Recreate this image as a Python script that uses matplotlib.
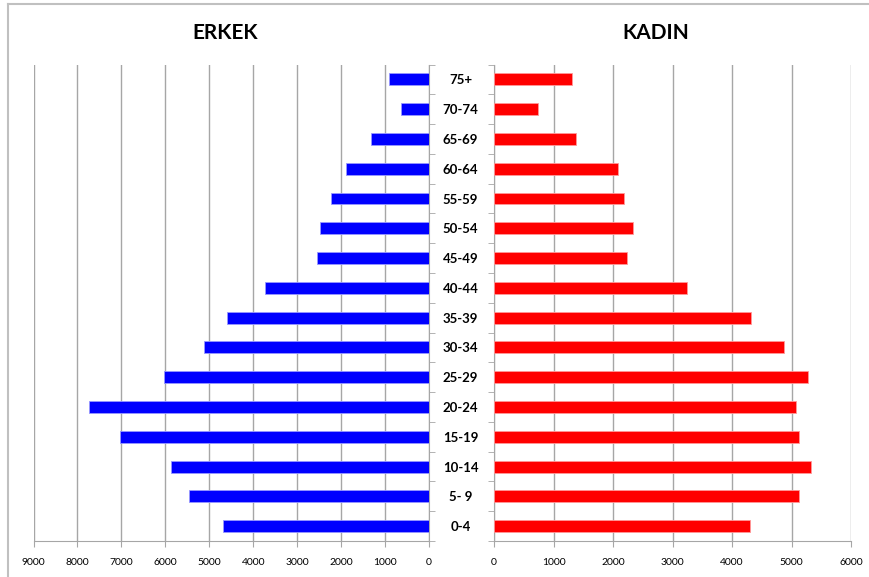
import numpy as np
import matplotlib
matplotlib.use("Agg")
import matplotlib.pyplot as plt
from matplotlib.lines import Line2D

# age groups, bottom to top
age_groups = ["0-4", "5- 9", "10-14", "15-19", "20-24", "25-29", "30-34", "35-39",
              "40-44", "45-49", "50-54", "55-59", "60-64", "65-69", "70-74", "75+"]
erkek = [4680, 5470, 5880, 7040, 7740, 6040, 5130, 4600,
         3730, 2560, 2480, 2230, 1880, 1310, 640, 910]
kadin = [4310, 5130, 5330, 5130, 5070, 5270, 4870, 4320,
         3250, 2240, 2340, 2190, 2080, 1370, 740, 1310]

left_ticks = [9000, 8000, 7000, 6000, 5000, 4000, 3000, 2000, 1000, 0]
right_ticks = [0, 1000, 2000, 3000, 4000, 5000, 6000]

W, H = 869, 577
fig = plt.figure(figsize=(W / 100, H / 100), dpi=100)
font = "Lato"
grid_col = "#a6a6a6"

def box(x0, y0, x1, y1):
    return [x0 / W, 1 - y1 / H, (x1 - x0) / W, (y1 - y0) / H]

ax1 = fig.add_axes(box(33.5, 64.5, 429, 541))
ax2 = fig.add_axes(box(494, 64.5, 851, 541))

y = np.arange(len(age_groups))
ax1.barh(y, erkek, height=0.4, color="#0000ff", edgecolor="#9999ff", linewidth=0.6, zorder=3)
ax2.barh(y, kadin, height=0.4, color="#ff0000", edgecolor="#ff9999", linewidth=0.6, zorder=3)

ax1.set_xlim(9000, 0)
ax2.set_xlim(0, 6000)

for ax, ticks in ((ax1, left_ticks), (ax2, right_ticks)):
    ax.set_ylim(-0.5, len(age_groups) - 0.5)
    ax.set_xticks(ticks)
    ax.set_xticklabels([str(t) for t in ticks], fontsize=7.5, family=font)
    ax.tick_params(axis="x", direction="out", length=4, color=grid_col, pad=8)
    ax.grid(axis="x", color=grid_col, linewidth=1, zorder=0)
    for s in ("top", "left", "right"):
        ax.spines[s].set_visible(False)
    ax.spines["bottom"].set_color(grid_col)
    ax.set_yticks(np.arange(-0.5, len(age_groups), 1.0), minor=True)

# left panel: axis line on the right side
ax1.spines["right"].set_visible(True)
ax1.spines["right"].set_color(grid_col)
ax1.yaxis.tick_right()
ax1.set_yticks([])
ax1.tick_params(axis="y", which="minor", direction="out", length=4, color=grid_col)

# right panel: axis line on the left, category labels between panels
ax2.spines["left"].set_visible(True)
ax2.spines["left"].set_color(grid_col)
ax2.set_yticks(y)
ax2.set_yticklabels(age_groups, fontsize=9.5, fontweight="bold", family=font, ha="center")
ax2.tick_params(axis="y", which="major", length=0, pad=24)
ax2.tick_params(axis="y", which="minor", direction="out", length=4, color=grid_col)

fig.text(225 / W, 1 - 33 / H, "ERKEK", ha="center", va="center",
         fontsize=15, fontweight="bold", family=font)
fig.text(656 / W, 1 - 33 / H, "KADIN", ha="center", va="center",
         fontsize=15, fontweight="bold", family=font)

# chart area border
fig.add_artist(Line2D([8 / W, 1], [1 - 4 / H, 1 - 4 / H], color="#c0c0c0", lw=1.5,
                      transform=fig.transFigure))
fig.add_artist(Line2D([8 / W, 8 / W], [0, 1 - 4 / H], color="#c0c0c0", lw=1.5,
                      transform=fig.transFigure))

fig.savefig("out.png", dpi=100)
